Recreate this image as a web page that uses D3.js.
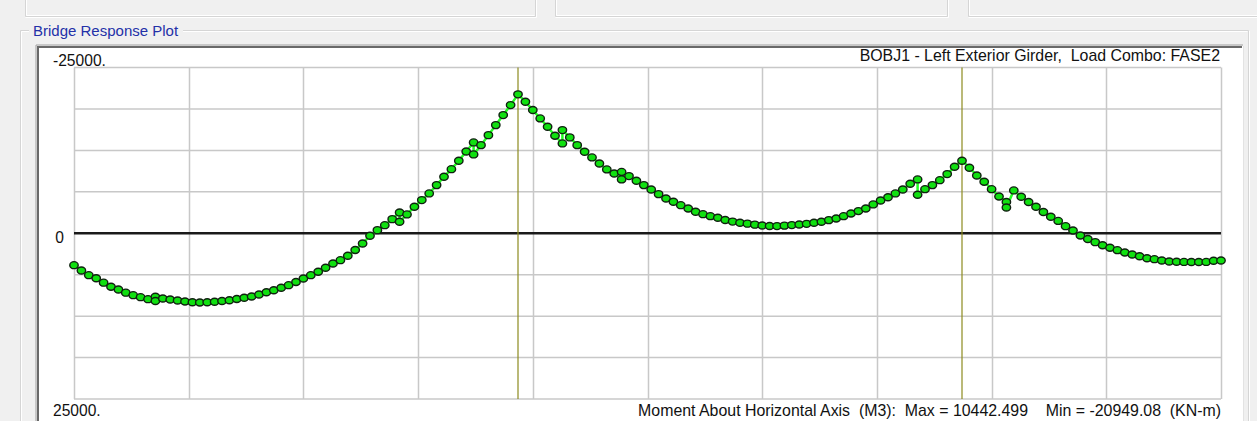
<!DOCTYPE html>
<html>
<head>
<meta charset="utf-8">
<title>Bridge Response Plot</title>
<script src="https://cdn.jsdelivr.net/npm/d3@7"></script>
<style>
    body { margin: 0; background: #f0f0f0; overflow: hidden; }
    text { font-family: "Liberation Sans", Arial, sans-serif; }
</style>
</head>
<body>
<div id="canvas"></div>
<script>
"use strict"

/* stations along the girder (m), a repeated station is a jump in the diagram */
let stations = [
    0, 0.5, 1, 1.5, 2, 2.5, 3, 3.5, 4, 4.5, 5, 5.5, 5.5, 6, 6.5, 7, 7.5, 8, 8.5, 9, 9.5,
    10, 10.5, 11, 11.5, 12, 12.5, 13, 13.5, 14, 14.5, 15, 15.5, 16, 16.5, 17, 17.5, 18, 18.5,
    19, 19.5, 20, 20.5, 21, 21.5, 22, 22, 22.5, 23, 23.5, 24, 24.5, 25, 25.5, 26, 26.5, 27, 27,
    27.5, 28, 28.5, 29, 29.5, 30,
    30.5, 31, 31.5, 32, 32.5, 33, 33, 33.5, 34, 34.5, 35, 35.5, 36, 36.5, 37, 37, 37.5, 38,
    38.5, 39, 39.5, 40, 40.5, 41, 41.5, 42, 42.5, 43, 43.5, 44, 44.5, 45, 45.5, 46, 46.5, 47,
    47.5, 48, 48.5, 49, 49.5, 50, 50.5, 51, 51.5, 52, 52.5, 53, 53.5, 54, 54.5, 55, 55.5, 56,
    56.5, 57, 57, 57.5, 58, 58.5, 59, 59.5, 60,
    60.5, 61, 61.5, 62, 62.5, 63, 63, 63.5, 64, 64.5, 65, 65.5, 66, 66.5, 67, 67.5, 68, 68.5,
    69, 69.5, 70, 70.5, 71, 71.5, 72, 72.5, 73, 73.5, 74, 74.5, 75, 75.5, 76, 76.5, 77, 77.5
];

/* moment M3 (KN-m) at each station */
let moments = [
    4810, 5610, 6320, 6780, 7450, 8070, 8480, 8960, 9340, 9640, 9940, 9580, 10220, 9840, 9990, 10140, 10290, 10410, 10442, 10410, 10340,
    10220, 10110, 9910, 9730, 9540, 9240, 8890, 8590, 8220, 7830, 7350, 6820, 6320, 5810, 5210, 4560, 4060, 3400,
    2520, 1540, 380, -470, -1220, -2130, -3140, -1740, -2840, -4000, -5000, -6010, -7260, -8530, -9670, -10940, -12340, -13700, -11890,
    -13290, -14800, -16310, -17820, -19330, -20949,
    -19840, -18580, -17320, -16070, -14710, -13550, -15560, -14460, -13290, -12300, -11440, -10530, -9630, -9020, -8120, -9250, -8620, -7920,
    -7260, -6610, -5900, -5250, -4750, -4240, -3740, -3240, -2880, -2580, -2340, -2000, -1760, -1580, -1450, -1300, -1180, -1090,
    -1080, -1150, -1230, -1310, -1420, -1580, -1740, -1980, -2230, -2580, -2990, -3340, -3740, -4350, -4950, -5430, -6010, -6610,
    -7470, -8120, -5810, -6650, -7260, -8010, -8920, -10030, -10940,
    -9880, -8720, -7770, -6650, -5550, -4720, -3890, -6460, -5510, -4720, -4000, -3210, -2490, -1860, -1070, -420, 330, 860,
    1340, 1800, 2190, 2550, 2900, 3200, 3460, 3760, 3910, 4100, 4260, 4300, 4320, 4330, 4330, 4320, 4150, 4120
];

let bridgeLength = 77.5;
let supports = [30, 60];
let yTickValues = [-25000, 0, 25000];
let yTickLabels = ["-25000.", "0", "25000."];
let groupTitle = "Bridge Response Plot";
let chartTitle = "BOBJ1 - Left Exterior Girder,  Load Combo: FASE2";
let footerText = "Moment About Horizontal Axis  (M3):  Max = 10442.499    Min = -20949.08  (KN-m)";

/* set up the drawing canvas */
let drawing = d3.select("#canvas")
    .append("svg")
    .attr("width", 1257)
    .attr("height", 421);

drawing.append("rect")
    .attr("width", 1257)
    .attr("height", 421)
    .attr("fill", "#f0f0f0");

/* bottoms of the three boxes above the plot */
let topBoxes = [[25, 535], [555, 947], [968, 1270]];
topBoxes.forEach(function (b) {
    drawing.append("path")
        .attr("d", "M" + (b[0] + 0.5) + ",-5V16.5H" + (b[1] + 0.5) + "V-5")
        .attr("fill", "none")
        .attr("stroke", "#d5d5d5");
    drawing.append("path")
        .attr("d", "M" + (b[0] + 1.5) + ",-5V15.5H" + (b[1] - 0.5) + "M" + (b[1] + 1.5) + ",-5V17.5H" + (b[0] + 0.5))
        .attr("fill", "none")
        .attr("stroke", "#ffffff");
});

/* group box round the plot */
drawing.append("path")
    .attr("d", "M29,30.5H20.5V430M183,30.5H1248.5V430")
    .attr("fill", "none")
    .attr("stroke", "#d5d5d5");
drawing.append("path")
    .attr("d", "M29,31.5H21.5V430M183,31.5H1247.5M1249.5,31V430")
    .attr("fill", "none")
    .attr("stroke", "#ffffff");

drawing.append("text")
    .attr("x", 33)
    .attr("y", 36)
    .attr("font-size", 15)
    .attr("fill", "#2330a8")
    .text(groupTitle);

/* white sunken panel */
drawing.append("rect")
    .attr("x", 37)
    .attr("y", 46)
    .attr("width", 1206)
    .attr("height", 400)
    .attr("fill", "#ffffff");
drawing.append("path")
    .attr("d", "M36,430V45H1243")
    .attr("fill", "none")
    .attr("stroke", "#a0a0a0")
    .attr("stroke-width", 1);
drawing.append("path")
    .attr("d", "M38,430V47H1242")
    .attr("fill", "none")
    .attr("stroke", "#696969")
    .attr("stroke-width", 2);
drawing.append("path")
    .attr("d", "M1243.5,46V430")
    .attr("fill", "none")
    .attr("stroke", "#e3e3e3");

/* scales */
let x = d3.scaleLinear()
    .domain([0, bridgeLength])
    .range([74, 1221]);

let y = d3.scaleLinear()
    .domain([-25000, 25000])
    .range([67.5, 399]);

/* grid */
let xGrid = d3.range(0, 11).map(function (i) { return bridgeLength * i / 10; });
let yGrid = d3.range(-25000, 25001, 6250);

drawing.append("g")
    .selectAll("line")
    .data(xGrid)
    .join("line")
    .attr("x1", function (d) { return Math.round(x(d)) + 0.5; })
    .attr("x2", function (d) { return Math.round(x(d)) + 0.5; })
    .attr("y1", y(-25000))
    .attr("y2", y(25000))
    .attr("stroke", "#c8c8c8")
    .attr("stroke-width", 1.5);

drawing.append("g")
    .selectAll("line")
    .data(yGrid)
    .join("line")
    .attr("x1", x(0))
    .attr("x2", x(bridgeLength))
    .attr("y1", function (d) { return y(d); })
    .attr("y2", function (d) { return y(d); })
    .attr("stroke", "#c8c8c8")
    .attr("stroke-width", 1.5);

/* zero line */
drawing.append("line")
    .attr("x1", x(0))
    .attr("x2", x(bridgeLength))
    .attr("y1", y(0))
    .attr("y2", y(0))
    .attr("stroke", "#1a1a1a")
    .attr("stroke-width", 2.5);

/* interior supports */
drawing.append("g")
    .selectAll("line")
    .data(supports)
    .join("line")
    .attr("x1", function (d) { return x(d); })
    .attr("x2", function (d) { return x(d); })
    .attr("y1", y(-25000))
    .attr("y2", y(25000))
    .attr("stroke", "#8c8a1e")
    .attr("stroke-width", 1.2);

/* moment diagram */
let points = stations.map(function (s, i) { return [s, moments[i]]; });

let momentLine = d3.line()
    .x(function (d) { return x(d[0]); })
    .y(function (d) { return y(d[1]); });

drawing.append("path")
    .datum(points)
    .attr("d", momentLine)
    .attr("fill", "none")
    .attr("stroke", "#22ff22")
    .attr("stroke-width", 2.5);

drawing.append("g")
    .selectAll("ellipse")
    .data(points)
    .join("ellipse")
    .attr("cx", function (d) { return x(d[0]); })
    .attr("cy", function (d) { return y(d[1]); })
    .attr("rx", 4.2)
    .attr("ry", 3.5)
    .attr("fill", "#10e010")
    .attr("stroke", "#102010")
    .attr("stroke-width", 1.4);

/* axis labels */
let labelOffset = [-2, 10, 17];
yTickValues.forEach(function (v, i) {
    drawing.append("text")
        .attr("x", i == 1 ? 64 : 53)
        .attr("y", y(v) + labelOffset[i])
        .attr("font-size", 15.6)
        .attr("text-anchor", i == 1 ? "end" : "start")
        .attr("fill", "#111111")
        .text(yTickLabels[i]);
});

/* titles */
drawing.append("text")
    .attr("x", 1220)
    .attr("y", 61)
    .attr("font-size", 15.9)
    .attr("text-anchor", "end")
    .attr("fill", "#111111")
    .style("white-space", "pre")
    .text(chartTitle);

drawing.append("text")
    .attr("x", 1221)
    .attr("y", 416)
    .attr("font-size", 15.9)
    .attr("text-anchor", "end")
    .attr("fill", "#111111")
    .style("white-space", "pre")
    .text(footerText);
</script>
</body>
</html>
